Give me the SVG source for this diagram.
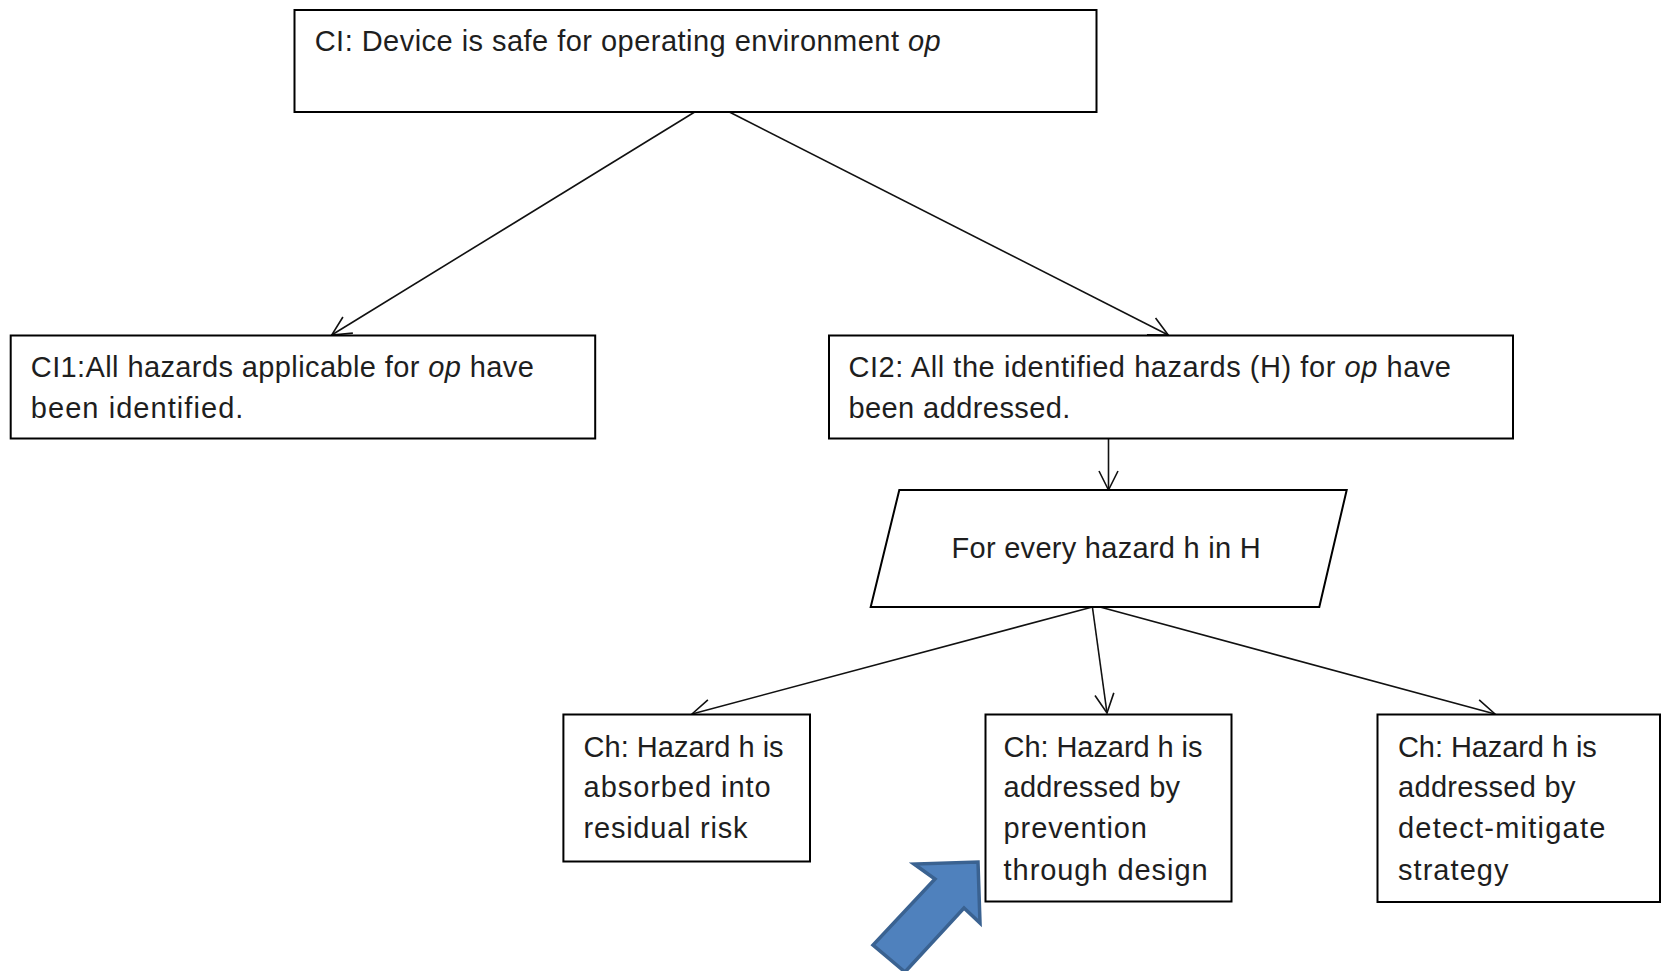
<svg xmlns="http://www.w3.org/2000/svg" width="1667" height="971" viewBox="0 0 1667 971">
  <style>
    .box { fill: #ffffff; stroke: #000000; stroke-width: 2; }
    .txt { font-family: "Liberation Sans", Arial, sans-serif; font-size: 29px; fill: #1e1e1e; }
    .it { font-style: italic; }
    .conn { fill: none; stroke: #111111; stroke-width: 1.6; }
    .pointer { fill: #4f81bd; stroke: #3a6291; stroke-width: 3.5; stroke-linejoin: miter; }
  </style>
  <defs>
    <marker id="ah" markerUnits="userSpaceOnUse" markerWidth="24" markerHeight="24" viewBox="-22 -12 24 24" refX="0" refY="0" orient="auto">
      <path d="M-19,-9.5 L0,0 L-19,9.5" fill="none" stroke="#111111" stroke-width="1.6"/>
    </marker>
  </defs>
  <rect width="1667" height="971" fill="#ffffff"/>

  <g id="connectors">
    <line class="conn" x1="694.7" y1="112" x2="331.7" y2="335" marker-end="url(#ah)"/>
    <line class="conn" x1="729.4" y1="112" x2="1168.2" y2="335" marker-end="url(#ah)"/>
    <line class="conn" x1="1108.5" y1="439" x2="1108.5" y2="490" marker-end="url(#ah)"/>
    <line class="conn" x1="1092.4" y1="607" x2="692" y2="714" marker-end="url(#ah)"/>
    <line class="conn" x1="1092.4" y1="607" x2="1107" y2="713" marker-end="url(#ah)"/>
    <line class="conn" x1="1100" y1="607" x2="1495" y2="714" marker-end="url(#ah)"/>
  </g>

  <g id="node-ci">
    <rect class="box" x="294.5" y="10" width="802" height="102"/>
    <text class="txt" x="314.7" y="51" textLength="626">CI: Device is safe for operating environment  <tspan class="it">op</tspan></text>
  </g>

  <g id="node-ci1">
    <rect class="box" x="10.7" y="335.5" width="584.5" height="103"/>
    <text class="txt" x="30.8" y="376.5" textLength="503">CI1:All hazards applicable for <tspan class="it">op</tspan> have</text>
    <text class="txt" x="30.8" y="418" textLength="212.6">been identified.</text>
  </g>

  <g id="node-ci2">
    <rect class="box" x="829" y="335.5" width="684" height="103"/>
    <text class="txt" x="848.4" y="376.5" textLength="602.6">CI2: All the identified hazards (H) for <tspan class="it">op</tspan> have</text>
    <text class="txt" x="848.4" y="418" textLength="222">been addressed.</text>
  </g>

  <g id="node-forall">
    <polygon class="box" points="899.3,490 1346.7,490 1319.3,607 870.7,607"/>
    <text class="txt" x="951.5" y="558" textLength="309.3">For every hazard h in H</text>
  </g>

  <g id="node-ch-residual">
    <rect class="box" x="563.4" y="714.5" width="246.6" height="147"/>
    <text class="txt" x="583.6" y="756.5" textLength="200">Ch: Hazard h is</text>
    <text class="txt" x="583.6" y="797" textLength="187">absorbed into</text>
    <text class="txt" x="583.6" y="837.5" textLength="163.8">residual risk</text>
  </g>

  <g id="node-ch-prevention">
    <rect class="box" x="985.5" y="714.5" width="246" height="187"/>
    <text class="txt" x="1003.6" y="756.5" textLength="198.8">Ch: Hazard h is</text>
    <text class="txt" x="1003.6" y="797" textLength="176.4">addressed by</text>
    <text class="txt" x="1003.6" y="837.5" textLength="143.4">prevention</text>
    <text class="txt" x="1003.6" y="880" textLength="204">through design</text>
  </g>

  <g id="node-ch-detect">
    <rect class="box" x="1377.5" y="714.5" width="282.5" height="187.5"/>
    <text class="txt" x="1398" y="756.5" textLength="198.8">Ch: Hazard h is</text>
    <text class="txt" x="1398" y="797" textLength="177.5">addressed by</text>
    <text class="txt" x="1398" y="837.5" textLength="207.3">detect-mitigate</text>
    <text class="txt" x="1398" y="880" textLength="110.5">strategy</text>
  </g>

  <g id="pointer">
    <polygon class="pointer" points="978,862 980,923 964,908 905,972 873,945 935,879 914,864"/>
  </g>
</svg>
